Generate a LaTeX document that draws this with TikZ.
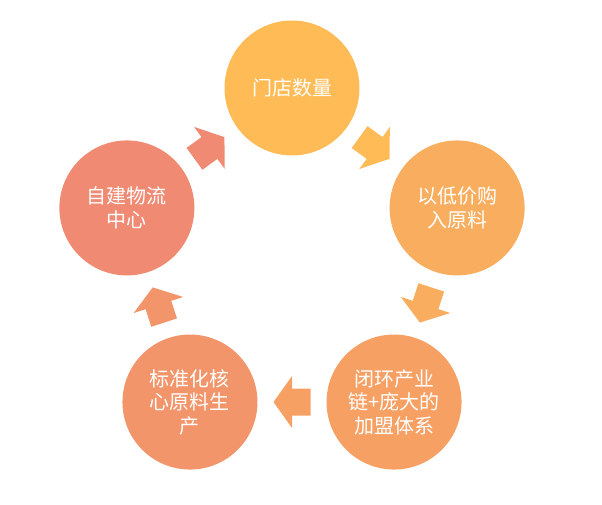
\documentclass[tikz,border=0pt]{standalone}
\usepackage{fontspec}
\setmainfont{Noto Sans CJK SC}
\usetikzlibrary{calc}
\definecolor{cA}{RGB}{255,187,85}
\definecolor{cB}{RGB}{249,173,94}
\definecolor{cC}{RGB}{247,160,100}
\definecolor{cD}{RGB}{243,149,106}
\definecolor{cE}{RGB}{240,138,115}
\newcommand\myblockarrow[4]{%
  \fill[#1, shift={($(#2)!0.5!(#3)$)}, rotate=#4]
    (-18.5,-13.5) -- (0,-13.5) -- (0,-26) -- (18.5,0) -- (0,26) -- (0,13.5) -- (-18.5,13.5) -- cycle;}
\begin{document}
\begin{tikzpicture}[x=1pt,y=1pt,
  circ/.style={circle, minimum size=135pt, inner sep=0pt, text=white,
    font=\fontsize{20}{23.5}\selectfont, align=center}]
\useasboundingbox (0,0) rectangle (602,505);
\coordinate (O) at (292,243.4);
\node[circ, fill=cA] (n1) at ($(O)+(90:173.6)$) {门店数量};
\node[circ, fill=cB] (n2) at ($(O)+(18:173.6)$) {以低价购\\入原料};
\node[circ, fill=cC] (n3) at ($(O)+(-54:173.6)$) {闭环产业\\链+庞大的\\加盟体系};
\node[circ, fill=cD] (n4) at ($(O)+(-126:173.6)$) {标准化核\\心原料生\\产};
\node[circ, fill=cE] (n5) at ($(O)+(162:173.6)$) {自建物流\\中心};
\myblockarrow{cA}{n1}{n2}{-36}
\myblockarrow{cB}{n2}{n3}{-108}
\myblockarrow{cC}{n3}{n4}{180}
\myblockarrow{cD}{n4}{n5}{108}
\myblockarrow{cE}{n5}{n1}{36}
\end{tikzpicture}
\end{document}
